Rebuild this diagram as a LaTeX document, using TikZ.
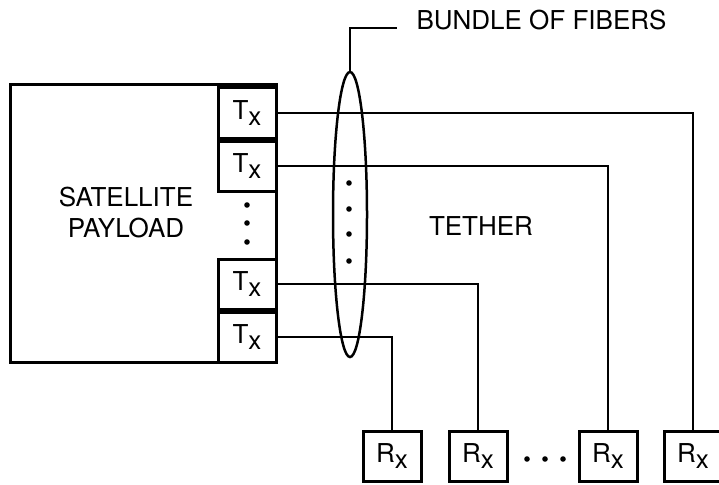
\documentclass[tikz,border=0pt]{standalone}
\usepackage{fontspec}
\setmainfont{TeX Gyre Heros}
\usetikzlibrary{shapes.geometric, positioning}
\tikzset{
	blk/.style    ={rectangle, draw=black, line width=3pt, minimum width=58pt, minimum height=50pt, inner sep=0pt},
	fib/.style    ={line width=2.2pt},
	bndl/.style   ={ellipse, draw=black, line width=2.5pt, minimum width=34pt, minimum height=285pt, inner sep=0pt},
	% dots for the omitted channels
	omit/.style   ={fill=black},
}
\newcommand{\lowx}{\raisebox{-0.5ex}{x}}

\begin{document}
\begin{tikzpicture}[x=1pt, y=-1pt, font=\fontsize{26}{31}\selectfont]
			\useasboundingbox (0,0) rectangle (719,484);
			\node[draw, line width=3pt, minimum width=266pt, minimum height=277pt, inner sep=0pt] (pay) at (143,223.5) {};
			\node[align=center] (sat) at (126,213) {SATELLITE\\PAYLOAD};
			\node[blk] (tx1) at (247,113) {T\lowx};
			\node[blk, below=0pt of tx1] (tx2) {T\lowx};
			\node[blk] (tx4) at (247,337) {T\lowx};
			\node[blk, above=0pt of tx4] (tx3) {T\lowx};
			\foreach \dy in {205,223,242} \fill[omit] (247,\dy) circle (2.8pt);
			\node[bndl] (bndl) at (350,214.5) {};
			\foreach \dy in {183,209,234,261} \fill[omit] (349,\dy) circle (2.8pt);
			\coordinate (ldr) at (397,28);
			\node[anchor=west] (bof) at (413,20) {BUNDLE OF FIBERS};
			\node (teth) at (481,226) {TETHER};
			\node[blk] (rx1) at (392,456) {R\lowx};
			\node[blk] (rx2) at (478,456) {R\lowx};
			\node[blk] (rx3) at (608,456) {R\lowx};
			\node[blk] (rx4) at (693,456) {R\lowx};
			\foreach \dx in {527,545,563} \fill[omit] (\dx,459) circle (2.8pt);
			\draw[fib] (bndl.north) |- (ldr);
			\draw[fib] (tx1.east) -| (rx4.north);
			\draw[fib] (tx2.east) -| (rx3.north);
			\draw[fib] (tx3.east) -| (rx2.north);
			\draw[fib] (tx4.east) -| (rx1.north);
		\end{tikzpicture}
\end{document}
